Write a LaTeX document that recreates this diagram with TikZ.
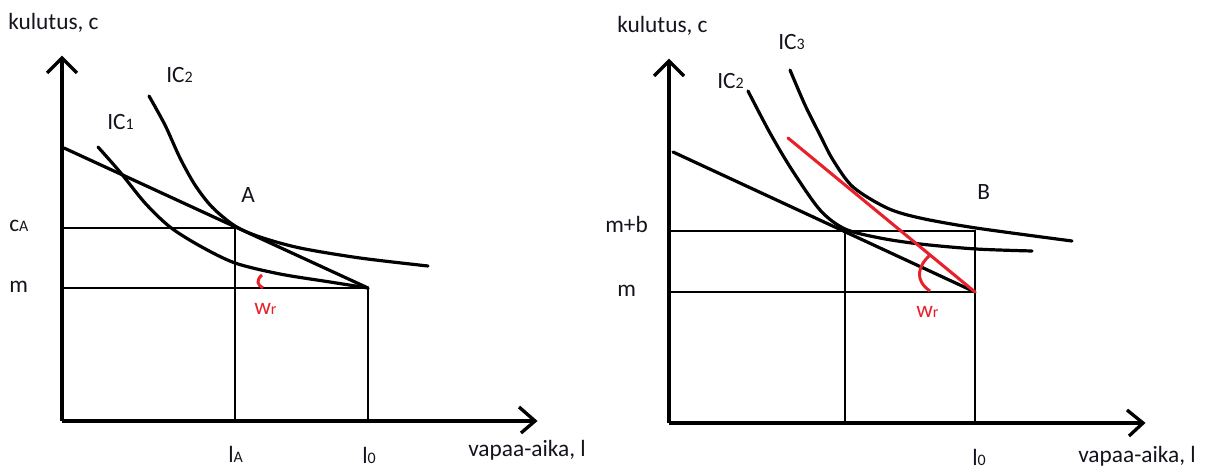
\documentclass[tikz,border=0pt]{standalone}
\usepackage{fontspec}
\setmainfont{Carlito}
\definecolor{ink}{RGB}{20,20,30}
\definecolor{redl}{RGB}{232,32,42}
\tikzset{
  axis/.style={line width=2.5pt},
  guide/.style={line width=0.8pt},
  curve/.style={line width=2.4pt, line cap=round},
  redline/.style={line width=2.3pt, redl, line cap=round},
  lbl/.style={anchor=base west, inner sep=0pt, text=ink, font=\fontsize{17.5}{20}\selectfont},
  redlbl/.style={lbl, text=redl},
}
\newcommand{\sbs}[1]{{\fontsize{12}{14}\selectfont #1}}
\begin{document}
\begin{tikzpicture}[x=0.75pt,y=-0.75pt]
\useasboundingbox (0,0) rectangle (1215,470);
% ---------- left diagram ----------
\coordinate (Lo) at (62,421);
\coordinate (Ly) at (62,58);
\coordinate (Lx) at (535,421);
\draw[axis] (Lo) -- (Ly);
\draw[axis] (47,73) -- (Ly) -- (77,73);
\draw[axis] (Lo) -- (Lx);
\draw[axis] (519,407) -- (Lx) -- (521,433);
\coordinate (LA) at (235,228);
\coordinate (Lm) at (368,288);
\draw[guide] (62,228) -- (LA) -- (235,421);
\draw[guide] (62,288) -- (Lm) -- (368,421);
\coordinate (Lb) at (64,148);
\draw[curve] (Lb) -- (Lm);
\draw[curve] plot[smooth] coordinates {(98,147) (120,172) (145,203) (170,227) (200,246) (235,263) (280,274) (330,282) (368,288)};
\draw[curve] plot[smooth] coordinates {(149,96) (165,125) (180,158) (195,185) (212,207) (235,226) (260,237) (300,248) (360,258) (428,266)};
\draw[line width=2.2pt, redl] (262,275) .. controls (256,280) and (257,285) .. (263,288);
\node[lbl] (kl) at (8,30) {kulutus, c};
\node[lbl] (ic1) at (107,130) {IC\sbs{1}};
\node[lbl] (ic2) at (166,83) {IC\sbs{2}};
\node[lbl] (A) at (241,203) {A};
\node[lbl] (cA) at (9,232) {c\sbs{A}};
\node[lbl] (ml) at (9,293) {m};
\node[redlbl] (wl) at (254,315) {w\sbs{r}};
\node[lbl] (lA) at (228,463) {l\sbs{A}};
\node[lbl] (l0) at (362,464) {l\sbs{0}};
\node[lbl] (vl) at (468,457) {vapaa-aika, l};
% ---------- right diagram ----------
\coordinate (Ro) at (669,423);
\coordinate (Ry) at (669,61);
\coordinate (Rx) at (1143,423);
\draw[axis] (Ro) -- (Ry);
\draw[axis] (654,76) -- (Ry) -- (684,76);
\draw[axis] (Ro) -- (Rx);
\draw[axis] (1127,410) -- (Rx) -- (1129,436);
\coordinate (RA) at (845,231);
\coordinate (Rm) at (975,292);
\draw[guide] (669,231) -- (975,231) -- (975,423);
\draw[guide] (RA) -- (845,423);
\draw[guide] (669,292) -- (Rm);
\coordinate (Rb) at (673,152);
\draw[curve] (Rb) -- (Rm);
\draw[curve] plot[smooth] coordinates {(748,91) (770,133) (792,170) (820,210) (845,229) (880,238) (920,244) (976,249) (1032,251)};
\draw[curve] plot[smooth] coordinates {(790,70) (805,105) (820,135) (833,160) (853,187) (887,208) (920,218) (976,228) (1072,241)};
\coordinate (Rr) at (788,138);
\draw[redline] (Rr) -- (Rm);
\draw[line width=2.2pt, redl] (930,255) .. controls (918,266) and (914,280) .. (930,291);
\node[lbl] (kr) at (617,33) {kulutus, c};
\node[lbl] (ic2r) at (717,89) {IC\sbs{2}};
\node[lbl] (ic3) at (778,50) {IC\sbs{3}};
\node[lbl] (B) at (977,200) {B};
\node[lbl] (mb) at (605,233) {m+b};
\node[lbl] (mr) at (617,297) {m};
\node[redlbl] (wr) at (916,318) {w\sbs{r}};
\node[lbl] (l0r) at (972,465) {l\sbs{0}};
\node[lbl] (vr) at (1078,463) {vapaa-aika, l};
\end{tikzpicture}
\end{document}
